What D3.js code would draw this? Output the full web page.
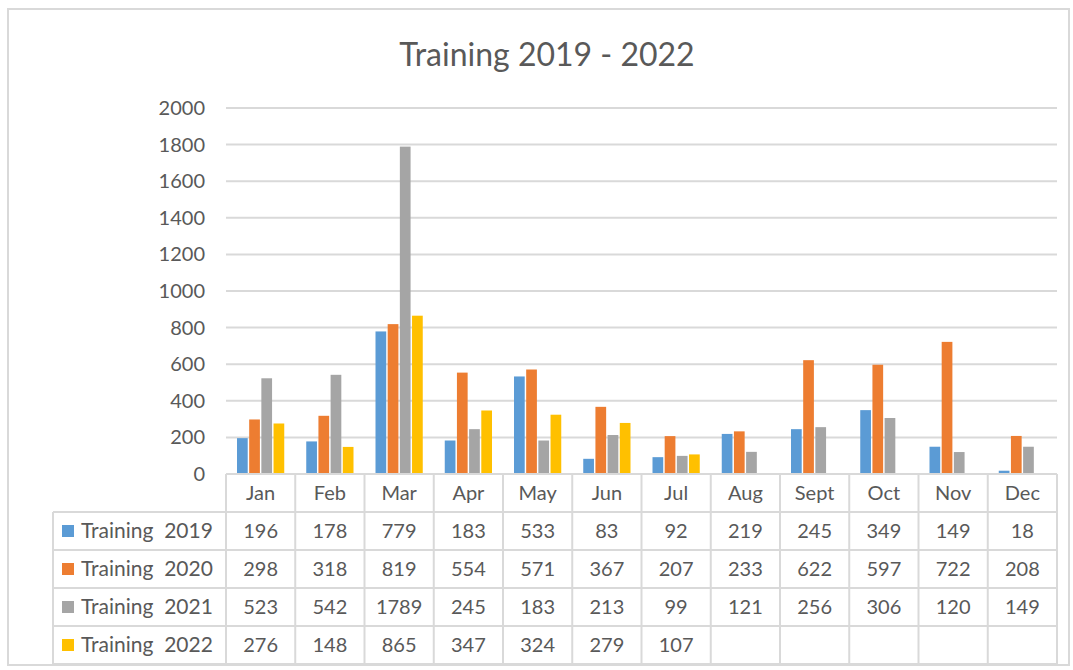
<!DOCTYPE html>
<html>
<head>
<meta charset="utf-8">
<script src="https://cdn.jsdelivr.net/npm/d3@7"></script>
<style>
  body { margin: 0; background: #fff; }
  svg text { font-family: Lato, "Open Sans", sans-serif; fill: #595959; }
</style>
</head>
<body>
<div id="chart"></div>
<script>
var months = ["Jan", "Feb", "Mar", "Apr", "May", "Jun", "Jul", "Aug", "Sept", "Oct", "Nov", "Dec"];
var seriesNames = ["Training  2019", "Training  2020", "Training  2021", "Training  2022"];
var colors = ["#5B9BD5", "#ED7D31", "#A5A5A5", "#FFC000"];
var t2019 = [196, 178, 779, 183, 533, 83, 92, 219, 245, 349, 149, 18];
var t2020 = [298, 318, 819, 554, 571, 367, 207, 233, 622, 597, 722, 208];
var t2021 = [523, 542, 1789, 245, 183, 213, 99, 121, 256, 306, 120, 149];
var t2022 = [276, 148, 865, 347, 324, 279, 107, null, null, null, null, null];
var yTicks = [0, 200, 400, 600, 800, 1000, 1200, 1400, 1600, 1800, 2000];

var allSeries = [t2019, t2020, t2021, t2022];

var width = 1073, height = 670;
var plot = {left: 226, right: 1057, top: 108, bottom: 474};
var rowH = 38, labelLeft = 53;

var svg = d3.select("#chart").append("svg")
	.attr("width", width)
	.attr("height", height);

// outer chart frame
svg.append("rect")
	.attr("x", 8).attr("y", 9)
	.attr("width", 1061).attr("height", 656)
	.attr("fill", "#fff")
	.attr("stroke", "#d9d9d9")
	.attr("stroke-width", 2);

svg.append("text")
	.attr("x", 547).attr("y", 66)
	.attr("text-anchor", "middle")
	.style("font-size", "32px")
	.text("Training 2019 - 2022");

var x = d3.scaleBand()
	.domain(months)
	.range([plot.left, plot.right]);

var x1 = d3.scaleBand()
	.domain(d3.range(allSeries.length))
	.range([11, x.bandwidth() - 11])
	.paddingInner(0.12);

var y = d3.scaleLinear()
	.domain([0, 2000])
	.range([plot.bottom, plot.top]);

// gridlines + y labels
svg.append("g")
	.selectAll("line")
	.data(yTicks).enter()
	.append("line")
	.attr("x1", plot.left).attr("x2", plot.right)
	.attr("y1", function(d) { return y(d); })
	.attr("y2", function(d) { return y(d); })
	.attr("stroke", "#d9d9d9")
	.attr("stroke-width", 2);

svg.append("g")
	.selectAll("text")
	.data(yTicks).enter()
	.append("text")
	.attr("x", 205)
	.attr("y", function(d) { return y(d) + 7; })
	.attr("text-anchor", "end")
	.style("font-size", "20px")
	.text(function(d) { return d; });

// bars
allSeries.forEach(function(vals, s) {
	svg.append("g")
		.selectAll("rect")
		.data(vals.map(function(v, i) { return {m: months[i], v: v}; })
			.filter(function(d) { return d.v != null; }))
		.enter()
		.append("rect")
		.attr("x", function(d) { return x(d.m) + x1(s); })
		.attr("y", function(d) { return y(d.v); })
		.attr("width", x1.bandwidth())
		.attr("height", function(d) { return y(0) - y(d.v); })
		.attr("fill", colors[s]);
});

// data table
var tableTop = plot.bottom;
var tg = svg.append("g").attr("stroke", "#d9d9d9").attr("stroke-width", 2);
tg.append("line")
	.attr("x1", plot.left).attr("x2", plot.right)
	.attr("y1", tableTop).attr("y2", tableTop);
for (var r = 1; r <= allSeries.length + 1; r++) {
	tg.append("line")
		.attr("x1", labelLeft).attr("x2", plot.right)
		.attr("y1", tableTop + r * rowH).attr("y2", tableTop + r * rowH);
}
tg.append("line")
	.attr("x1", labelLeft).attr("x2", labelLeft)
	.attr("y1", tableTop + rowH).attr("y2", tableTop + (allSeries.length + 1) * rowH);
months.concat(["end"]).forEach(function(m, i) {
	var xx = i < months.length ? x(m) : plot.right;
	tg.append("line")
		.attr("x1", xx).attr("x2", xx)
		.attr("y1", tableTop).attr("y2", tableTop + (allSeries.length + 1) * rowH);
});

// month headers
svg.append("g")
	.selectAll("text")
	.data(months).enter()
	.append("text")
	.attr("x", function(d) { return x(d) + x.bandwidth() / 2; })
	.attr("y", tableTop + rowH / 2 + 7)
	.attr("text-anchor", "middle")
	.style("font-size", "20px")
	.text(function(d) { return d; });

// rows
allSeries.forEach(function(vals, s) {
	var cy = tableTop + (s + 1) * rowH + rowH / 2;
	svg.append("rect")
		.attr("x", 62).attr("y", cy - 6)
		.attr("width", 12).attr("height", 12)
		.attr("fill", colors[s]);
	svg.append("text")
		.attr("x", 81).attr("y", cy + 7)
		.style("font-size", "21px")
		.style("white-space", "pre")
		.attr("xml:space", "preserve")
		.text(seriesNames[s]);
	svg.append("g")
		.selectAll("text")
		.data(vals.map(function(v, i) { return {m: months[i], v: v}; })
			.filter(function(d) { return d.v != null; }))
		.enter()
		.append("text")
		.attr("x", function(d) { return x(d.m) + x.bandwidth() / 2; })
		.attr("y", cy + 7)
		.attr("text-anchor", "middle")
		.style("font-size", "20px")
		.text(function(d) { return d.v; });
});
</script>
</body>
</html>
